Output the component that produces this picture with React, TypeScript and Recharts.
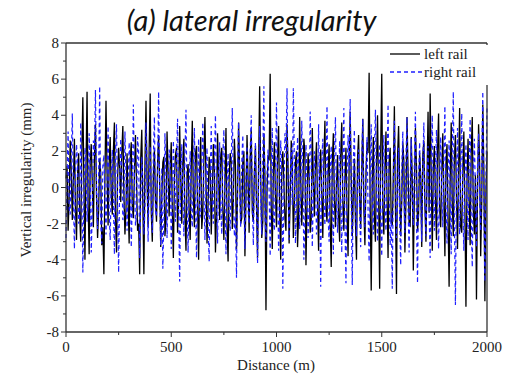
import React from 'react';
import {
  LineChart,
  Line,
  XAxis,
  YAxis,
  ReferenceLine,
} from 'recharts';

// samples every 10 m, plus the in-between samples at +5 m
const STEP_M = 10;

const leftRail = [
  0.5, -2.4, 2.6, -1.8, 2.7, -2.9, 1.9, -3.0, 5.0, -4.0,
  5.3, -3.7, 2.4, -2.2, 3.5, -2.8, 1.6, -3.2, -4.8, 4.8,
  -2.1, 2.8, -1.5, 3.6, -3.6, 2.2, -0.8, 3.4, -2.6, 1.9,
  -3.1, 2.5, -1.7, 2.9, -2.4, -4.8, 3.2, -4.8, 4.8, -2.2,
  5.2, -3.0, 2.1, -1.9, 2.9, -3.3, 1.4, -2.7, 3.1, -1.6,
  2.5, -3.9, 1.8, -2.5, 3.4, -2.0, 2.7, -3.5, 1.3, -2.9,
  3.7, -2.2, 2.3, -4.0, 2.8, -1.4, 3.9, -3.1, 1.7, -2.6,
  2.4, -3.6, 3.0, -1.8, 2.2, -2.9, 3.3, -4.1, 1.9, -2.3,
  2.7, -3.4, 3.6, -2.0, 1.5, -3.8, 2.9, -2.5, 3.2, -1.9,
  2.3, -3.9, 5.6, -2.8, 3.0, -6.8, 1.8, 6.3, -3.4, 2.5,
  -2.2, 3.4, -4.0, 2.0, -1.7, 3.5, -3.1, 2.6, -2.8, 1.4,
  -3.3, 3.9, -2.1, 2.7, -4.3, 1.9, -2.5, 3.3, -1.6, 2.5,
  -3.5, 2.1, -2.8, 3.7, -1.9, 2.4, -4.4, 3.0, -2.2, 1.8,
  -3.0, 3.6, -2.4, 2.2, -3.8, 4.2, -2.7, 1.6, -4.0, 2.9,
  -2.3, 3.8, -3.2, 2.5, 6.35, -5.7, 2.8, -3.0, 4.0, -5.6,
  6.3, -2.6, 3.1, -3.9, 2.2, -2.1, 4.5, -5.9, 3.4, -2.7,
  2.5, -3.6, 3.9, -2.0, 2.8, -4.6, 3.3, -2.4, 1.9, -3.3,
  2.6, -3.0, 4.2, 5.2, -3.5, 2.3, -2.9, 4.1, -2.2, 3.0,
  -3.8, 2.4, -5.5, 3.6, -2.7, 2.9, -3.4, 4.4, -2.5, 3.1,
  -6.6, 2.7, -3.2, 3.9, -2.6, -6.2, 3.5, -3.8, 4.6, -6.3,
  2.0,
];

const leftRailMid = [
  1.2, -0.6, 0.9, 0.4, -1.1, 0.7, -1.5, 1.8, 0.3, 1.1,
  -0.9, 1.4, 0.2, 1.6, -0.5, -1.3, 0.8, -2.2, 0.6, 0.9,
  1.3, -0.4, 2.0, -1.7, 0.5, 1.1, 1.9, -0.3, -1.2, -0.8,
  1.5, -1.0, 0.7, 0.3, -2.0, 1.6, -0.9, 1.2, 0.4, 2.1,
  -1.4, 0.6, -0.7, 1.3, 0.2, -0.6, 1.7, -1.8, 0.9, 1.0,
  -1.1, 0.4, 2.2, -0.8, 0.5, 1.4, -1.6, 0.7, -1.3, 1.2,
  -0.5, 1.9, -1.0, 0.8, -2.3, 1.6, 0.3, -0.9, 1.1, -0.4,
  0.9, -1.5, 0.6, 1.8, -1.2, 0.2, -2.1, 0.5, 1.4, -0.7,
  1.2, -0.3, 0.8, -1.7, 2.0, -0.6, 0.4, 1.6, -1.4, 0.9,
  -1.0, 1.3, 0.5, -1.9, 0.7, -0.2, 1.5, -1.1, 0.8, -0.5,
  1.7, -1.3, 0.9, 0.3, -2.4, 1.1, -0.6, 1.4, -0.8, 2.0,
  -1.6, 0.5, -0.2, 1.9, -1.0, 0.7, -1.8, 0.4, 1.2, -0.9,
  0.6, -0.4, 1.5, -1.2, 0.8, -2.0, 1.3, -0.7, 0.2, -1.5,
  1.8, -0.8, 0.4, -1.4, 1.1, 0.5, -0.3, -1.9, 1.6, -0.6,
  1.0, -1.2, 0.7, 1.9, -0.9, 0.3, -1.6, 1.2, -0.4, 2.1,
  -1.3, 0.8, -0.5, 1.4, -1.9, 0.6, -1.1, 1.7, 0.2, -0.8,
  1.5, -0.7, 0.9, -2.1, 0.4, -0.3, 1.2, -1.5, 0.6, 1.8,
  -1.0, 0.5, -1.4, 0.8, 1.1, -0.6, 2.0, -1.2, 0.7, -0.4,
  1.3, -1.7, 0.3, -0.9, 1.6, -0.5, 1.0, -2.2, 0.8, -1.1,
  0.4, -0.6, 1.9, -1.3, 0.7, -0.2, 1.4, -0.8, 1.1, -0.3,
];

const rightRail = [
  -2.8, 3.1, -1.5, 4.1, -3.4, 2.4, -2.0, 3.6, -4.7, 2.2,
  -1.9, 3.0, -3.6, 2.6, 5.4, -2.3, 5.6, -3.1, 1.8, -2.6,
  3.4, -2.9, 2.1, -3.7, 3.5, -4.7, 2.7, -1.8, 3.1, -2.4,
  2.5, -3.3, 4.6, -2.1, 2.8, -3.9, 1.7, -2.6, 3.6, -3.0,
  2.3, -2.5, 3.9, -1.6, 5.3, -3.2, -4.5, 3.0, -2.8, 2.1,
  -3.4, 2.6, -1.9, 3.8, -5.2, 2.4, -2.7, 4.3, -3.6, 2.0,
  -2.2, 3.3, -3.9, 2.7, -1.5, 3.6, -2.9, 2.2, -4.1, 3.4,
  -2.0, 4.0, -3.1, 2.5, -2.6, 3.2, -3.7, 1.9, -2.4, 4.4,
  -2.7, -5.0, 3.6, -2.2, 2.9, -3.4, 2.3, -2.0, 4.0, -3.2,
  2.5, -4.2, 3.4, -2.6, 5.6, -3.0, 2.1, -3.8, 3.3, -2.4,
  4.7, -3.5, 2.6, -5.6, 3.0, 5.5, -2.9, 2.2, 5.5, -3.1,
  2.8, -2.3, 3.7, -4.0, 2.4, -2.8, 4.2, -3.3, 2.0, -2.6,
  3.5, -5.5, 2.7, -2.1, 4.5, -3.0, 2.3, -3.7, 3.9, -2.5,
  2.6, -3.6, 4.4, -5.3, 2.9, 4.9, -5.4, 3.2, -2.7, 2.1,
  -3.3, 3.8, -2.2, 2.8, -4.1, 3.5, -2.6, 4.3, -3.0, 2.4,
  -3.8, 2.9, -2.4, 4.6, -3.2, -5.6, 3.7, -2.8, 2.2, -4.3,
  3.1, -2.5, 3.9, -3.6, 2.7, -2.1, 4.2, -5.3, 2.5, -3.0,
  3.6, -2.7, 2.3, -3.9, 4.0, -2.4, 3.2, -3.4, 2.8, -2.2,
  4.5, -3.1, 2.6, -3.7, 5.3, -6.5, 3.3, -2.6, 4.1, -3.5,
  2.4, -2.9, 3.8, -4.4, 2.7, -3.3, 3.0, -2.4, 5.3, -5.2,
  4.4,
];

const rightRailMid = [
  0.8, -1.2, 1.5, -0.4, 0.6, 1.3, -1.7, 0.2, -0.9, 1.6,
  -0.5, 0.9, -1.1, 1.8, -0.3, 0.7, -2.0, 1.2, -0.6, 0.4,
  -1.4, 0.5, -0.8, 1.9, -1.0, 0.3, 1.1, -1.6, 0.7, -0.2,
  1.4, -0.7, 0.6, -1.5, 2.0, -0.9, 0.4, -1.2, 1.3, 0.1,
  -0.6, 1.7, -1.3, 0.8, -0.4, 1.1, -1.8, 0.5, -0.1, 1.5,
  -0.9, 0.3, 1.6, -1.2, 0.7, -0.5, 1.9, -0.8, 0.2, -1.4,
  1.0, -0.6, 0.4, -1.7, 1.3, -0.2, 0.8, -2.1, 0.6, -0.9,
  1.5, -0.3, 0.7, -1.1, 1.8, -0.7, 0.2, -1.5, 1.2, -0.4,
  -1.6, 0.9, -0.3, 1.4, -0.8, 0.5, -1.3, 2.0, -0.5, 0.7,
  -1.1, 0.4, -0.6, 1.7, -1.4, 0.8, -0.2, 1.1, -1.8, 0.6,
  0.3, -1.5, 1.2, -0.7, 1.9, -0.4, 0.6, -1.0, 1.4, -0.8,
  1.1, -0.5, 0.9, -1.8, 0.3, -1.2, 1.6, -0.4, 0.7, -1.3,
  -0.2, 1.5, -0.9, 0.6, -1.6, 1.0, -0.3, 1.8, -1.1, 0.4,
  -0.7, 1.2, -1.9, 0.5, 0.9, -0.6, 1.4, -1.0, 0.2, -1.5,
  1.7, -0.4, 0.8, -1.3, 0.5, -0.9, 1.9, -0.2, 1.0, -1.6,
  0.6, -1.1, 1.3, -0.5, -1.4, 0.7, 1.2, -0.8, -1.7, 0.9,
  -0.3, 1.6, -1.2, 0.4, -0.7, 1.5, -1.8, 0.6, -0.4, 1.1,
  -0.9, 0.2, -1.5, 1.7, -0.6, 1.0, -1.3, 0.5, -0.2, 1.4,
  -1.0, 0.7, -0.5, 2.0, -1.6, 0.3, -0.8, 1.2, -1.1, 0.6,
  -0.4, 1.3, -1.7, 0.9, -0.3, 1.1, -0.7, 1.6, -1.2, 0.5,
];

const xTicks = [0, 250, 500, 750, 1000, 1250, 1500, 1750, 2000];
const xLabeled = [0, 500, 1000, 1500, 2000];
const yTicks = [-8, -7, -6, -5, -4, -3, -2, -1, 0, 1, 2, 3, 4, 5, 6, 7, 8];
const yLabeled = [-8, -6, -4, -2, 0, 2, 4, 6, 8];

const seriesNames = { left: 'left rail', right: 'right rail' };

const data: { distance: number; left: number; right: number }[] = [];
leftRail.forEach((v, i) => {
  data.push({ distance: i * STEP_M, left: v, right: rightRail[i] });
  if (i < leftRailMid.length) {
    data.push({ distance: i * STEP_M + STEP_M / 2, left: leftRailMid[i], right: rightRailMid[i] });
  }
});

const AXIS = '#333';
const SERIF = '"Liberation Serif", "Times New Roman", serif';
const TICK_SIZE = 5;
const TICK_MARGIN = 3;
const BLUE = '#1f1fff';

function XTick(props: any) {
  const { x, y, payload } = props;
  const major = xLabeled.includes(payload.value);
  const y0 = y - TICK_SIZE - TICK_MARGIN;
  return (
    <g>
      <line x1={x} x2={x} y1={y0} y2={y0 + (major ? 5 : 3)} stroke={AXIS} strokeWidth={1} />
      {major && (
        <text x={x} y={y0 + 20} textAnchor="middle" fontFamily={SERIF} fontSize={15} fill="#222">
          {payload.value}
        </text>
      )}
    </g>
  );
}

function YTick(props: any) {
  const { x, y, payload } = props;
  const major = yLabeled.includes(payload.value);
  const x0 = x + TICK_SIZE + TICK_MARGIN;
  return (
    <g>
      <line x1={x0} x2={x0 - (major ? 5 : 3)} y1={y} y2={y} stroke={AXIS} strokeWidth={1} />
      {major && (
        <text x={x0 - 7} y={y + 5} textAnchor="end" fontFamily={SERIF} fontSize={15} fill="#222">
          {payload.value}
        </text>
      )}
    </g>
  );
}

export default function App() {
  return (
    <div style={{ position: 'absolute', left: 0, top: 0, width: 510, height: 383, background: '#fff' }}>
      <div
        style={{
          position: 'absolute',
          left: 0,
          top: 3,
          width: 503,
          textAlign: 'center',
          fontFamily: 'Lato, "Open Sans", sans-serif',
          fontStyle: 'italic',
          fontSize: 29,
          color: '#111',
          lineHeight: '34px',
        }}
      >
        (a) lateral irregularity
      </div>
      <div
        style={{
          position: 'absolute',
          left: 26,
          top: 180,
          transform: 'translate(-50%, -50%) rotate(-90deg)',
          whiteSpace: 'nowrap',
          fontFamily: SERIF,
          fontSize: 15,
          color: '#222',
        }}
      >
        Vertical irregularity (mm)
      </div>
      <div
        style={{
          position: 'absolute',
          left: 276,
          top: 357,
          transform: 'translateX(-50%)',
          whiteSpace: 'nowrap',
          fontFamily: SERIF,
          fontSize: 15,
          color: '#222',
        }}
      >
        Distance (m)
      </div>
      <LineChart width={510} height={383} data={data} margin={{ top: 43, right: 23, bottom: 21, left: 0 }}>
        <XAxis
          dataKey="distance"
          type="number"
          domain={[0, 2000]}
          ticks={xTicks}
          interval={0}
          height={30}
          stroke={AXIS}
          strokeWidth={1.3}
          tickLine={false}
          tickSize={TICK_SIZE}
          tickMargin={TICK_MARGIN}
          tick={<XTick />}
        />
        <YAxis
          type="number"
          domain={[-8, 8]}
          ticks={yTicks}
          interval={0}
          width={66}
          stroke={AXIS}
          strokeWidth={1.3}
          tickLine={false}
          tickSize={TICK_SIZE}
          tickMargin={TICK_MARGIN}
          tick={<YTick />}
        />
        <Line
          dataKey="left"
          name={seriesNames.left}
          stroke="#000"
          strokeWidth={1.3}
          dot={false}
          isAnimationActive={false}
        />
        <Line
          dataKey="right"
          name={seriesNames.right}
          stroke={BLUE}
          strokeWidth={1.2}
          strokeDasharray="4 3"
          dot={false}
          isAnimationActive={false}
        />
        <ReferenceLine y={8} stroke={AXIS} strokeWidth={1.3} />
        <ReferenceLine x={2000} stroke={AXIS} strokeWidth={1.3} />
      </LineChart>
      <svg
        width={100}
        height={40}
        style={{ position: 'absolute', left: 388, top: 45, background: '#fff' }}
      >
        <line x1={2} x2={32} y1={9} y2={9} stroke="#000" strokeWidth={1.3} />
        <text x={36} y={14} fontFamily={SERIF} fontSize={15} fill="#222">{seriesNames.left}</text>
        <line x1={2} x2={34} y1={27} y2={27} stroke={BLUE} strokeWidth={1.3} strokeDasharray="4 3" />
        <text x={36} y={32} fontFamily={SERIF} fontSize={15} fill="#222">{seriesNames.right}</text>
      </svg>
    </div>
  );
}
